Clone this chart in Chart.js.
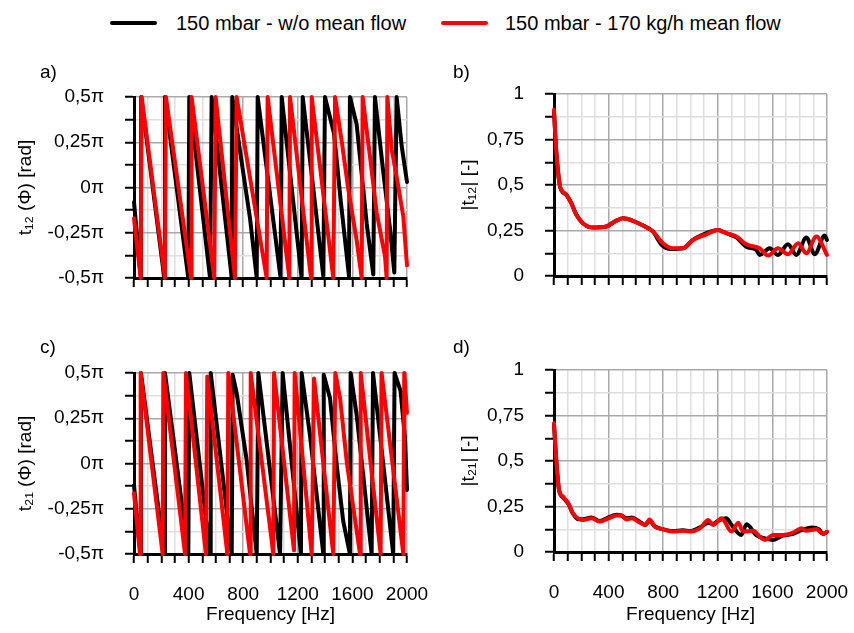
<!DOCTYPE html>
<html>
<head>
<meta charset="utf-8">
<script src="https://cdn.jsdelivr.net/npm/chart.js@4.4.0/dist/chart.umd.min.js"></script>
<style>
  body { margin: 0; background: #fff; font-family: "Liberation Sans", Arial, sans-serif; }
  #wrap { position: relative; width: 854px; height: 633px; overflow: hidden; background: #fff; }
  #wrap canvas { position: absolute; }
  .lbl { position: absolute; font-size: 19px; line-height: 22px; color: #000; }
  .leg { position: absolute; top: 11px; font-size: 20px; line-height: 24px; color: #000; white-space: nowrap; }
  .leg span.swatch { position: absolute; top: 10px; width: 47px; height: 4px; border-radius: 2px; }
</style>
</head>
<body>
<div id="wrap">
  <canvas id="chartA" width="440" height="240" style="left:0px;top:80px"></canvas>
  <canvas id="chartB" width="434" height="240" style="left:420px;top:80px"></canvas>
  <canvas id="chartC" width="440" height="278" style="left:0px;top:355px"></canvas>
  <canvas id="chartD" width="434" height="278" style="left:420px;top:355px"></canvas>
  <div class="lbl" style="left:40px;top:61px">a)</div>
  <div class="lbl" style="left:453px;top:61px">b)</div>
  <div class="lbl" style="left:40px;top:336px">c)</div>
  <div class="lbl" style="left:453px;top:336px">d)</div>
  <div id="legend"></div>
</div>
<script>
// series names / colours
const seriesNames = ['150 mbar - w/o mean flow', '150 mbar - 170 kg/h mean flow'];
const seriesColors = ['#000000', '#ff0000'];

// tick labels
const freqTicks = ['0', '400', '800', '1200', '1600', '2000'];
const phaseTicks = ['-0,5π', '-0,25π', '0π', '0,25π', '0,5π'];
const magTicks = ['0', '0,25', '0,5', '0,75', '1'];

// a) phase of t12 (in units of pi)
const aBlackHz = [0, 50, 53, 222, 227, 398, 405, 557, 569, 716, 720, 777, 850, 899, 906, 1074, 1082, 1228, 1236, 1314, 1387, 1399, 1465, 1514, 1575, 1582, 1631, 1705, 1753, 1765, 1827, 1876, 1907, 1924, 1961, 2000];
const aBlackPhase = [-0.08, -0.5, 0.5, -0.5, 0.5, -0.5, 0.5, -0.5, 0.5, -0.5, 0.5, 0.2, -0.17, -0.5, 0.5, -0.5, 0.5, -0.5, 0.5, -0.01, -0.49, 0.5, 0.3, -0.07, -0.49, 0.5, 0.35, -0.2, -0.48, 0.5, 0.08, -0.23, -0.47, 0.5, 0.23, 0.03];
const aRedHz = [0, 49, 56, 227, 234, 418, 422, 588, 598, 740, 752, 972, 979, 1138, 1143, 1297, 1302, 1460, 1473, 1521, 1570, 1631, 1668, 1675, 1729, 1778, 1839, 1851, 1856, 1888, 1924, 1973, 2000];
const aRedPhase = [-0.17, -0.5, 0.5, -0.5, 0.5, -0.5, 0.5, -0.5, 0.5, -0.5, 0.5, -0.5, 0.5, -0.5, 0.5, -0.5, 0.5, -0.5, 0.5, 0.26, -0.01, -0.29, -0.5, 0.5, 0.17, -0.14, -0.38, -0.5, 0.5, 0.21, 0.06, -0.16, -0.43];

// b) |t12|
const bBlackHz = [0, 17, 42, 54, 90, 127, 164, 212, 286, 383, 444, 505, 579, 652, 725, 790, 860, 945, 1018, 1116, 1201, 1262, 1336, 1409, 1482, 1507, 1580, 1641, 1714, 1775, 1849, 1910, 1983, 2000];
const bBlackMag = [0.9, 0.68, 0.5, 0.47, 0.446, 0.4, 0.336, 0.29, 0.266, 0.272, 0.299, 0.317, 0.303, 0.277, 0.244, 0.17, 0.148, 0.152, 0.198, 0.235, 0.253, 0.235, 0.212, 0.161, 0.143, 0.116, 0.152, 0.116, 0.174, 0.116, 0.211, 0.119, 0.222, 0.198];
const bRedHz = [0, 17, 42, 54, 90, 127, 164, 212, 286, 383, 444, 505, 579, 652, 725, 798, 872, 945, 1018, 1116, 1201, 1262, 1336, 1409, 1507, 1568, 1641, 1714, 1788, 1849, 1922, 2000];
const bRedMag = [0.914, 0.684, 0.5, 0.473, 0.446, 0.4, 0.336, 0.29, 0.266, 0.272, 0.299, 0.317, 0.303, 0.277, 0.244, 0.18, 0.152, 0.152, 0.198, 0.229, 0.253, 0.235, 0.217, 0.174, 0.152, 0.112, 0.152, 0.119, 0.18, 0.125, 0.217, 0.116];

// c) phase of t21
const cBlackHz = [0, 47, 51, 222, 227, 398, 405, 557, 562, 716, 723, 752, 825, 899, 911, 1070, 1089, 1223, 1228, 1290, 1387, 1390, 1436, 1485, 1533, 1582, 1587, 1631, 1741, 1751, 1827, 1899, 1909, 1953, 1985, 2000];
const cBlackPhase = [-0.12, -0.5, 0.5, -0.5, 0.5, -0.5, 0.5, -0.5, 0.5, -0.5, 0.49, 0.39, 0.02, -0.5, 0.5, -0.5, 0.5, -0.5, 0.5, 0.15, -0.5, 0.49, 0.36, -0.01, -0.32, -0.5, 0.5, 0.27, -0.5, 0.5, -0.01, -0.5, 0.5, 0.4, 0.14, -0.146];
const cRedHz = [0, 44, 49, 210, 215, 374, 381, 527, 537, 684, 691, 850, 855, 1021, 1026, 1172, 1177, 1302, 1319, 1460, 1475, 1510, 1560, 1656, 1661, 1807, 1814, 1973, 1980, 2000];
const cRedPhase = [-0.164, -0.5, 0.5, -0.5, 0.5, -0.5, 0.5, -0.5, 0.48, -0.5, 0.5, -0.5, 0.5, -0.5, 0.5, -0.48, 0.5, -0.5, 0.47, -0.5, 0.5, 0.36, 0, -0.5, 0.5, -0.5, 0.5, -0.5, 0.5, 0.28];

// d) |t21|
const dBlackHz = [0, 17, 37, 66, 105, 139, 176, 212, 273, 337, 398, 459, 496, 530, 569, 630, 667, 700, 740, 798, 872, 945, 996, 1069, 1131, 1165, 1200, 1262, 1300, 1372, 1411, 1482, 1546, 1604, 1677, 1751, 1814, 1890, 1940, 1971, 2000];
const dBlackMag = [0.7, 0.5, 0.34, 0.3, 0.265, 0.21, 0.18, 0.18, 0.19, 0.17, 0.19, 0.205, 0.2, 0.185, 0.19, 0.165, 0.15, 0.17, 0.14, 0.125, 0.115, 0.12, 0.115, 0.135, 0.16, 0.155, 0.17, 0.185, 0.15, 0.093, 0.152, 0.093, 0.075, 0.066, 0.09, 0.1, 0.12, 0.135, 0.125, 0.1, 0.11];
const dRedHz = [0, 17, 37, 66, 105, 139, 176, 212, 273, 337, 398, 459, 496, 530, 569, 630, 667, 700, 740, 798, 872, 945, 996, 1069, 1131, 1165, 1228, 1300, 1350, 1385, 1460, 1507, 1546, 1604, 1677, 1751, 1814, 1849, 1924, 1971, 2000];
const dRedMag = [0.707, 0.505, 0.341, 0.304, 0.267, 0.212, 0.185, 0.176, 0.185, 0.167, 0.185, 0.2, 0.2, 0.179, 0.185, 0.161, 0.148, 0.179, 0.139, 0.125, 0.112, 0.117, 0.112, 0.13, 0.176, 0.148, 0.185, 0.112, 0.161, 0.112, 0.117, 0.084, 0.066, 0.093, 0.093, 0.106, 0.13, 0.117, 0.125, 0.099, 0.112];

const fontFamily = '"Liberation Sans", "DejaVu Sans", Arial, sans-serif';
const majorGrid = '#a9a9a9';
const minorGrid = '#dedede';

function toPoints(xs, ys) {
  return xs.map((x, i) => ({ x: x, y: ys[i] }));
}

function onStep(v, step) {
  const k = v / step;
  return Math.abs(k - Math.round(k)) < 1e-6;
}

function makePanel(id, p) {
  const smooth = p.smooth ? { cubicInterpolationMode: 'monotone' } : { tension: 0 };
  const datasets = [
    Object.assign({
      label: seriesNames[0], data: toPoints(p.blackX, p.blackY),
      borderColor: seriesColors[0], borderWidth: 4, order: 1
    }, smooth),
    Object.assign({
      label: seriesNames[1], data: toPoints(p.redX, p.redY),
      borderColor: seriesColors[1], borderWidth: 4, order: 0
    }, smooth)
  ];
  datasets.forEach(d => { d.showLine = true; d.pointRadius = 0; d.fill = false; d.clip = 6; d.borderJoinStyle = 'round'; d.borderCapStyle = 'round'; });

  new Chart(document.getElementById(id), {
    type: 'scatter',
    data: { datasets: datasets },
    options: {
      responsive: false,
      animation: false,
      devicePixelRatio: 1,
      layout: { padding: { top: p.padTop, right: p.padRight, left: 0, bottom: 0 } },
      plugins: { legend: { display: false }, tooltip: { enabled: false } },
      scales: {
        x: {
          type: 'linear', min: 0, max: 2000,
          border: { color: '#000', width: 3 },
          grid: {
            color: ctx => (ctx.tick && onStep(ctx.tick.value, 400)) ? majorGrid : minorGrid,
            lineWidth: 1.5, tickLength: 9, tickColor: '#000', tickWidth: 2
          },
          ticks: {
            stepSize: 100, autoSkip: false, maxRotation: 0, minRotation: 0, padding: 20,
            color: '#000', font: { family: fontFamily, size: 19 },
            callback: v => (p.showX && onStep(v, 400)) ? freqTicks[Math.round(v / 400)] : ''
          },
          title: {
            display: p.showX, text: 'Frequency [Hz]', color: '#000',
            font: { family: fontFamily, size: 19 }, padding: { top: 0, bottom: 7 }
          },
          afterFit: s => { s.height = p.xHeight; s.paddingLeft = 0; s.paddingRight = 0; }
        },
        y: {
          type: 'linear', min: p.yMin, max: p.yMax,
          border: { color: '#000', width: 3 },
          grid: {
            color: ctx => (ctx.tick && onStep(ctx.tick.value - p.yMin, p.yMajor)) ? majorGrid : minorGrid,
            lineWidth: 1.5, tickLength: 9, tickColor: '#000', tickWidth: 2
          },
          ticks: {
            stepSize: p.yMajor / 2, autoSkip: false, padding: 21,
            color: '#000', font: { family: fontFamily, size: 19 },
            callback: v => onStep(v - p.yMin, p.yMajor) ? p.yLabels[Math.round((v - p.yMin) / p.yMajor)] : ''
          },
          title: {
            display: true, text: p.yTitle, color: '#000',
            font: { family: fontFamily, size: 19 }, padding: { top: p.yTitlePad, bottom: 0 }
          },
          afterFit: s => { s.width = 134; s.paddingTop = 0; s.paddingBottom = 0; }
        }
      }
    }
  });
}

makePanel('chartA', {
  blackX: aBlackHz, blackY: aBlackPhase, redX: aRedHz, redY: aRedPhase,
  yMin: -0.5, yMax: 0.5, yMajor: 0.25, yLabels: phaseTicks, yTitle: 't₁₂ (Φ) [rad]',
  yTitlePad: 14, padTop: 17, padRight: 33, xHeight: 42, showX: false, smooth: false
});
makePanel('chartB', {
  blackX: bBlackHz, blackY: bBlackMag, redX: bRedHz, redY: bRedMag,
  yMin: 0, yMax: 1, yMajor: 0.25, yLabels: magTicks, yTitle: '|t₁₂| [-]',
  yTitlePad: 37, padTop: 14, padRight: 27, xHeight: 44, showX: false, smooth: true
});
makePanel('chartC', {
  blackX: cBlackHz, blackY: cBlackPhase, redX: cRedHz, redY: cRedPhase,
  yMin: -0.5, yMax: 0.5, yMajor: 0.25, yLabels: phaseTicks, yTitle: 't₂₁ (Φ) [rad]',
  yTitlePad: 14, padTop: 18, padRight: 33, xHeight: 79, showX: true, smooth: false
});
makePanel('chartD', {
  blackX: dBlackHz, blackY: dBlackMag, redX: dRedHz, redY: dRedMag,
  yMin: 0, yMax: 1, yMajor: 0.25, yLabels: magTicks, yTitle: '|t₂₁| [-]',
  yTitlePad: 37, padTop: 15, padRight: 27, xHeight: 81, showX: true, smooth: true
});

// legend built from the series names
const legend = document.getElementById('legend');
const legendPos = [{ line: 110, text: 176 }, { line: 441, text: 505 }];
seriesNames.forEach((name, i) => {
  const sw = document.createElement('span');
  sw.className = 'leg';
  sw.innerHTML = '<span class="swatch" style="left:' + legendPos[i].line + 'px;background:' + seriesColors[i] + '"></span>';
  sw.style.left = '0px';
  legend.appendChild(sw);
  const txt = document.createElement('div');
  txt.className = 'leg';
  txt.style.left = legendPos[i].text + 'px';
  txt.textContent = name;
  legend.appendChild(txt);
});
</script>
</body>
</html>
